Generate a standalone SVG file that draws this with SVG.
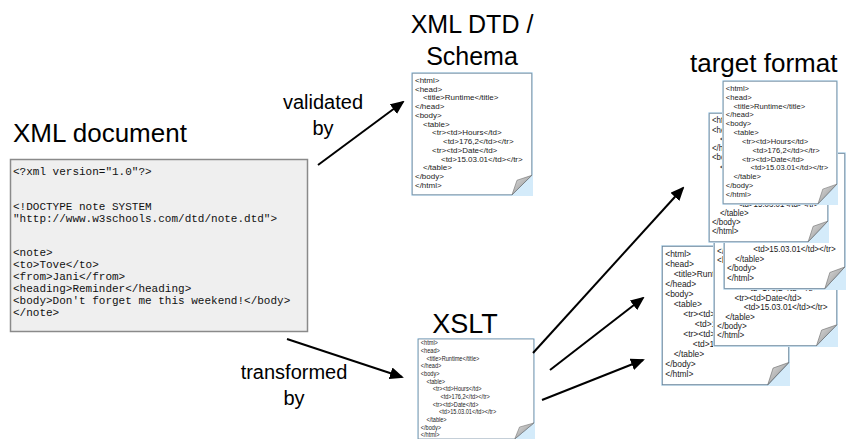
<svg xmlns="http://www.w3.org/2000/svg" xmlns:xlink="http://www.w3.org/1999/xlink" width="846" height="439" viewBox="0 0 846 439">
<style>
.title{font-family:"Liberation Sans",Arial,sans-serif;fill:#000}
.lbl{font-family:"Liberation Sans",Arial,sans-serif;font-size:20px;fill:#000;text-anchor:middle}
.code{font-family:"Liberation Sans",Arial,sans-serif;font-size:8px;fill:#1a1a1a}
.xml{font-family:"Liberation Mono","Courier New",monospace;font-size:11px;fill:#111}
.arrow{stroke:#000;stroke-width:2;fill:none;marker-end:url(#ah)}
</style>
<defs>
<marker id="ah" viewBox="0 0 14 12" refX="12" refY="6" markerWidth="7" markerHeight="6" orient="auto" markerUnits="strokeWidth">
<path d="M0,0 L14,6 L0,12 z" fill="#000"/>
</marker>
<linearGradient id="fold" x1="0" y1="0" x2="1" y2="1">
<stop offset="0" stop-color="#e0e0e0"/>
<stop offset="1" stop-color="#8a8a8a"/>
</linearGradient>
<g id="code" class="code">
<text x="4" y="11">&lt;html&gt;</text>
<text x="4" y="19.9">&lt;head&gt;</text>
<text x="12" y="28.8">&lt;title&gt;Runtime&lt;/title&gt;</text>
<text x="4" y="37.7">&lt;/head&gt;</text>
<text x="4" y="46.6">&lt;body&gt;</text>
<text x="12" y="55.5">&lt;table&gt;</text>
<text x="21" y="64.4">&lt;tr&gt;&lt;td&gt;Hours&lt;/td&gt;</text>
<text x="32" y="73.3">&lt;td&gt;176,2&lt;/td&gt;&lt;/tr&gt;</text>
<text x="21" y="82.2">&lt;tr&gt;&lt;td&gt;Date&lt;/td&gt;</text>
<text x="30" y="91.1">&lt;td&gt;15.03.01&lt;/td&gt;&lt;/tr&gt;</text>
<text x="12" y="100">&lt;/table&gt;</text>
<text x="4" y="108.9">&lt;/body&gt;</text>
<text x="4" y="117.8">&lt;/html&gt;</text>
</g>
<symbol id="page" viewBox="0 0 122 126" preserveAspectRatio="none">
<rect x="0" y="0" width="122" height="126" fill="#d4ebfa"/>
<path d="M1.2,1.2 H120.8 V105 L101,124.8 H1.2 Z" fill="#fff" stroke="#6a8499" stroke-width="0.9"/>
<path d="M101,124.8 L120.8,105 L106,110 Z" fill="url(#fold)" stroke="#6e6e6e" stroke-width="0.6"/>
</symbol>
<symbol id="doc" viewBox="0 0 122 126" preserveAspectRatio="none">
<use xlink:href="#page" x="0" y="0" width="122" height="126"/>
<use xlink:href="#code"/>
</symbol>
</defs>
<rect width="846" height="439" fill="#fff"/>

<g id="xml-document">
<text class="title" x="13" y="142" font-size="26">XML document</text>
<rect x="10.5" y="159.5" width="297" height="172" fill="#efefef" stroke="#8a8a8a" stroke-width="1.5"/>
<text class="xml" x="13" y="175">&lt;?xml version="1.0"?&gt;</text>
<text class="xml" x="13" y="210">&lt;!DOCTYPE note SYSTEM</text>
<text class="xml" x="13" y="222">"http://www.w3schools.com/dtd/note.dtd"&gt;</text>
<text class="xml" x="13" y="256">&lt;note&gt;</text>
<text class="xml" x="13" y="268">&lt;to&gt;Tove&lt;/to&gt;</text>
<text class="xml" x="13" y="280">&lt;from&gt;Jani&lt;/from&gt;</text>
<text class="xml" x="13" y="292">&lt;heading&gt;Reminder&lt;/heading&gt;</text>
<text class="xml" x="13" y="304">&lt;body&gt;Don't forget me this weekend!&lt;/body&gt;</text>
<text class="xml" x="13" y="316">&lt;/note&gt;</text>
</g>

<g id="dtd-schema">
<text class="title" x="472" y="33" font-size="25" text-anchor="middle">XML DTD /</text>
<text class="title" x="472" y="65" font-size="25" text-anchor="middle">Schema</text>
<use xlink:href="#doc" x="411" y="72" width="122" height="124"/>
</g>

<g id="xslt">
<text class="title" x="465" y="333" font-size="27" text-anchor="middle">XSLT</text>
<use xlink:href="#page" x="417" y="338" width="118" height="102"/>
<use xlink:href="#code" transform="translate(418,336) scale(0.7,0.86)"/>
</g>

<g id="target-format">
<text class="title" x="690" y="72" font-size="26">target format</text>
<use xlink:href="#doc" x="661" y="245" width="129" height="141"/>
<use xlink:href="#doc" x="713" y="214" width="125" height="133"/>
<use xlink:href="#doc" x="723" y="152" width="123" height="138"/>
<use xlink:href="#doc" x="708" y="112" width="121" height="131"/>
<use xlink:href="#doc" x="722" y="80" width="116" height="125"/>
</g>

<g id="labels">
<text class="lbl" x="323" y="109">validated</text>
<text class="lbl" x="323" y="135">by</text>
<text class="lbl" x="294" y="379">transformed</text>
<text class="lbl" x="294" y="405">by</text>
</g>

<g id="connectors">
<line class="arrow" x1="318" y1="165" x2="403" y2="102"/>
<line class="arrow" x1="287" y1="339" x2="402" y2="377"/>
<line class="arrow" x1="533" y1="353" x2="683" y2="188"/>
<line class="arrow" x1="550" y1="370" x2="643" y2="298"/>
<line class="arrow" x1="542" y1="400" x2="643" y2="360"/>
</g>
</svg>
